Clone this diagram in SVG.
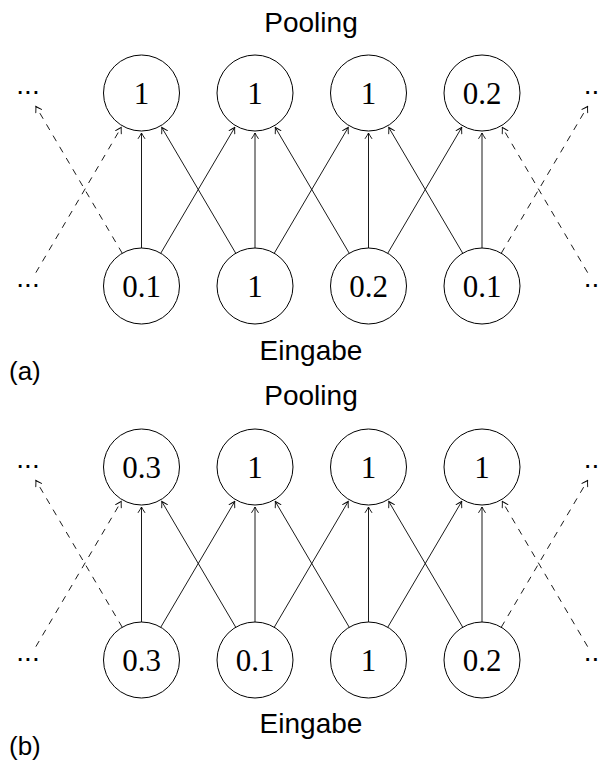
<svg xmlns="http://www.w3.org/2000/svg" width="598" height="765" viewBox="0 0 598 765">
<style>
.bg{fill:#fff}
.node circle{fill:#fff;stroke:#000;stroke-width:1}
.num{font-family:"Liberation Serif","DejaVu Serif",serif;font-size:31px;text-anchor:middle;fill:#000}
.lbl{font-family:"Liberation Sans",Arial,sans-serif;font-size:28px;text-anchor:middle;fill:#000}
.cap{font-family:"Liberation Sans",Arial,sans-serif;font-size:26px;fill:#000}
.dots{font-family:"Liberation Sans",Arial,sans-serif;font-size:28px;text-anchor:middle;fill:#000}
.e{fill:none;stroke:#000;stroke-width:0.9;marker-end:url(#arr)}
.d{stroke-dasharray:6.5 6.5}
</style>
<defs>
<marker id="arr" viewBox="-7 -5 8 10" refX="0" refY="0" markerWidth="8" markerHeight="10" markerUnits="userSpaceOnUse" orient="auto">
<path d="M-5.5,-3.3 Q-2,-1 0,0 Q-2,1 -5.5,3.3" fill="none" stroke="#000" stroke-width="0.9" stroke-dasharray="none" stroke-linecap="round"/>
</marker>
</defs>
<rect class="bg" x="0" y="0" width="598" height="765"/>

<g id="panel-a">
<text id="a-pooling" class="lbl" x="311" y="32">Pooling</text>
<text id="a-eingabe" class="lbl" x="311" y="360">Eingabe</text>
<text id="a-caption" class="cap" x="9" y="380">(a)</text>
<g id="a-connectors">
<line class="e d" x1="122.24" y1="253.24" x2="35.86" y2="106.36"/>
<line class="e" x1="141.5" y1="248" x2="141.5" y2="133"/>
<line class="e" x1="160.76" y1="253.24" x2="234.72" y2="127.48"/>
<line class="e" x1="235.74" y1="253.24" x2="161.78" y2="127.48"/>
<line class="e" x1="255" y1="248" x2="255" y2="133"/>
<line class="e" x1="274.26" y1="253.24" x2="348.22" y2="127.48"/>
<line class="e" x1="349.24" y1="253.24" x2="275.28" y2="127.48"/>
<line class="e" x1="368.5" y1="248" x2="368.5" y2="133"/>
<line class="e" x1="387.76" y1="253.24" x2="461.72" y2="127.48"/>
<line class="e" x1="462.74" y1="253.24" x2="388.78" y2="127.48"/>
<line class="e" x1="482" y1="248" x2="482" y2="133"/>
<line class="e d" x1="501.26" y1="253.24" x2="587.64" y2="106.36"/>
<line class="e d" x1="35.86" y1="272.64" x2="121.22" y2="127.48"/>
<line class="e d" x1="587.64" y1="272.64" x2="502.28" y2="127.48"/>
</g>
<g id="a-top-dots-left"><text class="dots" x="28" y="94">...</text></g>
<g id="a-top-1" class="node"><circle cx="141.5" cy="93" r="38"/><text class="num" x="141.5" y="103.5">1</text></g>
<g id="a-top-2" class="node"><circle cx="255" cy="93" r="38"/><text class="num" x="255" y="103.5">1</text></g>
<g id="a-top-3" class="node"><circle cx="368.5" cy="93" r="38"/><text class="num" x="368.5" y="103.5">1</text></g>
<g id="a-top-4" class="node"><circle cx="482" cy="93" r="38"/><text class="num" x="482" y="103.5">0.2</text></g>
<g id="a-top-dots-right"><text class="dots" x="595.5" y="94">...</text></g>
<g id="a-bot-dots-left"><text class="dots" x="28" y="287">...</text></g>
<g id="a-bot-1" class="node"><circle cx="141.5" cy="286" r="38"/><text class="num" x="141.5" y="296.5">0.1</text></g>
<g id="a-bot-2" class="node"><circle cx="255" cy="286" r="38"/><text class="num" x="255" y="296.5">1</text></g>
<g id="a-bot-3" class="node"><circle cx="368.5" cy="286" r="38"/><text class="num" x="368.5" y="296.5">0.2</text></g>
<g id="a-bot-4" class="node"><circle cx="482" cy="286" r="38"/><text class="num" x="482" y="296.5">0.1</text></g>
<g id="a-bot-dots-right"><text class="dots" x="595.5" y="287">...</text></g>
</g>

<g id="panel-b">
<text id="b-pooling" class="lbl" x="311" y="405">Pooling</text>
<text id="b-eingabe" class="lbl" x="311" y="733">Eingabe</text>
<text id="b-caption" class="cap" x="9" y="755">(b)</text>
<g id="b-connectors">
<line class="e d" x1="122.24" y1="627.24" x2="35.86" y2="480.36"/>
<line class="e" x1="141.5" y1="622" x2="141.5" y2="507"/>
<line class="e" x1="160.76" y1="627.24" x2="234.72" y2="501.48"/>
<line class="e" x1="235.74" y1="627.24" x2="161.78" y2="501.48"/>
<line class="e" x1="255" y1="622" x2="255" y2="507"/>
<line class="e" x1="274.26" y1="627.24" x2="348.22" y2="501.48"/>
<line class="e" x1="349.24" y1="627.24" x2="275.28" y2="501.48"/>
<line class="e" x1="368.5" y1="622" x2="368.5" y2="507"/>
<line class="e" x1="387.76" y1="627.24" x2="461.72" y2="501.48"/>
<line class="e" x1="462.74" y1="627.24" x2="388.78" y2="501.48"/>
<line class="e" x1="482" y1="622" x2="482" y2="507"/>
<line class="e d" x1="501.26" y1="627.24" x2="587.64" y2="480.36"/>
<line class="e d" x1="35.86" y1="646.64" x2="121.22" y2="501.48"/>
<line class="e d" x1="587.64" y1="646.64" x2="502.28" y2="501.48"/>
</g>
<g id="b-top-dots-left"><text class="dots" x="28" y="468">...</text></g>
<g id="b-top-1" class="node"><circle cx="141.5" cy="467" r="38"/><text class="num" x="141.5" y="477.5">0.3</text></g>
<g id="b-top-2" class="node"><circle cx="255" cy="467" r="38"/><text class="num" x="255" y="477.5">1</text></g>
<g id="b-top-3" class="node"><circle cx="368.5" cy="467" r="38"/><text class="num" x="368.5" y="477.5">1</text></g>
<g id="b-top-4" class="node"><circle cx="482" cy="467" r="38"/><text class="num" x="482" y="477.5">1</text></g>
<g id="b-top-dots-right"><text class="dots" x="595.5" y="468">...</text></g>
<g id="b-bot-dots-left"><text class="dots" x="28" y="661">...</text></g>
<g id="b-bot-1" class="node"><circle cx="141.5" cy="660" r="38"/><text class="num" x="141.5" y="670.5">0.3</text></g>
<g id="b-bot-2" class="node"><circle cx="255" cy="660" r="38"/><text class="num" x="255" y="670.5">0.1</text></g>
<g id="b-bot-3" class="node"><circle cx="368.5" cy="660" r="38"/><text class="num" x="368.5" y="670.5">1</text></g>
<g id="b-bot-4" class="node"><circle cx="482" cy="660" r="38"/><text class="num" x="482" y="670.5">0.2</text></g>
<g id="b-bot-dots-right"><text class="dots" x="595.5" y="661">...</text></g>
</g>
</svg>
